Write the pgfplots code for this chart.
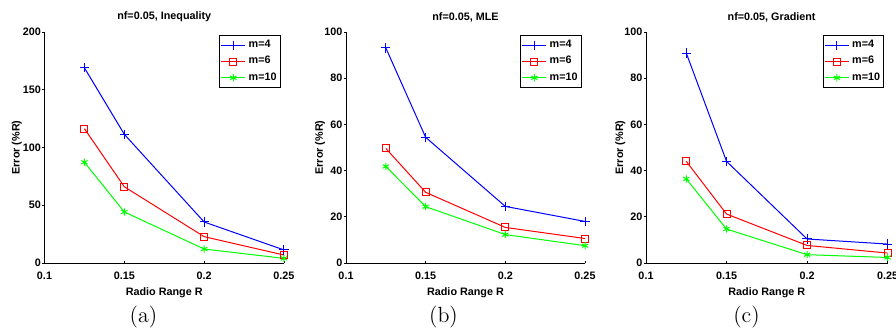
\documentclass[border=0pt]{standalone}
\usepackage{pgfplots}
\pgfplotsset{compat=1.18}
\usepackage{fontspec}
\newfontfamily\hv{Liberation Sans}
\newcommand\lbl{\hv\bfseries\fontsize{5.4}{6.5}\selectfont}
\pgfplotsset{
  panel/.style={
    scale only axis, height=115.5pt, clip=false,
    axis lines*=left,
    axis line style={black, line width=0.5pt},
    xmin=0.1, xmax=0.25, ymin=0,
    xtick={0.1,0.15,0.2,0.25}, xticklabels={0.1,0.15,0.2,0.25},
    tick align=outside, major tick length=1pt,
    tick style={black, line width=0.4pt},
    xtick style={yshift=1pt},
    /pgf/number format/assume math mode=true,
    ticklabel style={font=\lbl},
    yticklabel style={inner sep=0.6pt},
    xticklabel style={anchor=center, yshift=-5.6pt},
    label style={font=\lbl},
    xlabel style={at={(axis description cs:0.5,-0.128)}, anchor=center},
    xlabel={Radio Range R},
    ylabel={Error (\%R)},
    legend style={at={(axis description cs:0.987,0.987)}, anchor=north east,
      draw=black, line width=0.5pt, font=\lbl, inner xsep=0.5pt, inner ysep=1pt,
      row sep=0pt, nodes={inner sep=1.4pt}, cells={anchor=west}},
    legend image code/.code={\draw[##1,mark repeat=2,mark phase=2] plot coordinates {(0pt,0pt) (6pt,0pt) (12pt,0pt)};},
  },
  sA/.style={blue, line width=0.5pt, mark=+, mark size=2.3pt, mark options={line width=0.5pt}},
  sB/.style={red, line width=0.5pt, mark=square, mark size=1.75pt, mark options={line width=0.5pt}},
  sC/.style={green, line width=0.5pt, mark=asterisk, mark size=1.8pt, mark options={line width=0.5pt}},
}
\begin{document}
\begin{tikzpicture}
\useasboundingbox (0,0) rectangle (448pt,164pt);
% (a)
\begin{axis}[panel, at={(22.25pt,32.5pt)}, anchor=south west, width=119.75pt,
  ymax=200, ytick={0,50,100,150,200},
  ylabel style={at={(axis description cs:-0.115,0.5)}, anchor=center}]
\addplot[sA] coordinates {(0.125,169) (0.15,111.4) (0.2,35.5) (0.25,11.3)};
\addplot[sB] coordinates {(0.125,116.3) (0.15,66) (0.2,22.8) (0.25,6.9)};
\addplot[sC] coordinates {(0.125,87.2) (0.15,44.2) (0.2,12.1) (0.25,4)};
\legend{m=4,m=6,m=10}
\node[font=\lbl, anchor=center] at (axis description cs:0.5,1.065) {nf=0.05, Inequality};
\end{axis}
% (b)
\begin{axis}[panel, at={(173pt,32.5pt)}, anchor=south west, width=119.5pt,
  ymax=100, ytick={0,20,40,60,80,100},
  ylabel style={at={(axis description cs:-0.108,0.5)}, anchor=center}]
\addplot[sA] coordinates {(0.125,93.1) (0.15,54.4) (0.2,24.5) (0.25,18)};
\addplot[sB] coordinates {(0.125,49.6) (0.15,30.6) (0.2,15.4) (0.25,10.6)};
\addplot[sC] coordinates {(0.125,41.8) (0.15,24.4) (0.2,12.3) (0.25,7.5)};
\legend{m=4,m=6,m=10}
\node[font=\lbl, anchor=center] at (axis description cs:0.5,1.065) {nf=0.05, MLE};
\end{axis}
% (c)
\begin{axis}[panel, at={(323pt,32.5pt)}, anchor=south west, width=120.8pt,
  ymax=100, ytick={0,20,40,60,80,100},
  ylabel style={at={(axis description cs:-0.106,0.5)}, anchor=center}]
\addplot[sA] coordinates {(0.125,90.9) (0.15,44) (0.2,10.4) (0.25,8.2)};
\addplot[sB] coordinates {(0.125,44) (0.15,21.2) (0.2,7.6) (0.25,4.3)};
\addplot[sC] coordinates {(0.125,36.4) (0.15,14.7) (0.2,3.6) (0.25,2.4)};
\legend{m=4,m=6,m=10}
\node[font=\lbl, anchor=center] at (axis description cs:0.52,1.065) {nf=0.05, Gradient};
\end{axis}
\node[font=\fontsize{11}{13}\selectfont, anchor=center] at (71.75pt,5.7pt) {(a)};
\node[font=\fontsize{11}{13}\selectfont, anchor=center] at (221.75pt,5.7pt) {(b)};
\node[font=\fontsize{11}{13}\selectfont, anchor=center] at (373.25pt,5.7pt) {(c)};
\end{tikzpicture}
\end{document}
